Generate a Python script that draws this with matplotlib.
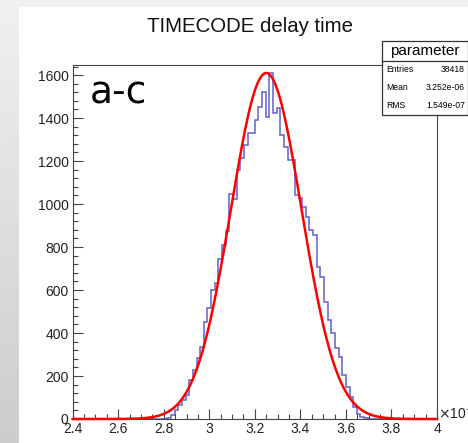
import matplotlib.pyplot as plt
import numpy as np
from matplotlib.patches import Rectangle
from matplotlib.lines import Line2D
from matplotlib.ticker import MultipleLocator

# Histogram: 100 bins from 2.4 to 4.0 (x 1e-6 s)
x_lo, x_hi, n_bins = 2.4, 4.0, 100
counts = [0] * 26 + [
    3, 19, 42, 65, 88, 112, 181, 228, 284, 335,
    451, 516, 600, 633, 744, 809, 874, 1047, 1023, 1158,
    1212, 1274, 1329, 1329, 1391, 1453, 1522, 1406, 1611, 1422,
    1445, 1321, 1264, 1205, 1205, 1042, 1030, 988, 941, 879,
    856, 708, 662, 546, 460, 400, 330, 290, 205, 150,
    104, 57, 23, 11, 5, 2,
] + [0] * 18

# Gaussian fit parameters
fit_amp, fit_mean, fit_sigma = 1610, 3.25, 0.155

stat_names = ['Entries', 'Mean', 'RMS']
stat_values = ['38418', '3.252e-06', '1.549e-07']

W, H = 468, 443
fig = plt.figure(figsize=(W / 100, H / 100), dpi=100)

# gray gradient backdrop with white panel
bg = fig.add_axes([0, 0, 1, 1], zorder=-10)
grad = np.linspace(0.94, 0.80, 256).reshape(-1, 1)
bg.imshow(grad, cmap='gray', vmin=0, vmax=1, aspect='auto', extent=[0, 1, 0, 1])
bg.add_patch(Rectangle((19 / W, 0), 1 - 19 / W, 1 - 7 / H, facecolor='white',
                       edgecolor='none'))
bg.set_xlim(0, 1)
bg.set_ylim(0, 1)
bg.axis('off')

L, R, T, B = 72.7, 437, 65, 419
ax = fig.add_axes([L / W, 1 - B / H, (R - L) / W, (B - T) / H])
ax.set_facecolor('white')

edges = np.linspace(x_lo, x_hi, n_bins + 1)
ax.stairs(counts, edges, color='#6060cc', linewidth=1.1, baseline=0)

xf = np.linspace(x_lo, x_hi, 800)
yf = fit_amp * np.exp(-0.5 * ((xf - fit_mean) / fit_sigma) ** 2)
ax.plot(xf, yf, color='#ff0000', linewidth=1.8, clip_on=False, zorder=3)

ax.set_xlim(x_lo, x_hi)
ax.set_ylim(0, 1647)
ax.xaxis.set_minor_locator(MultipleLocator(0.05))
ax.yaxis.set_major_locator(MultipleLocator(200))
ax.yaxis.set_minor_locator(MultipleLocator(40))
ax.set_xticks(np.arange(2.4, 4.01, 0.2))
ax.set_xticklabels(['2.4', '2.6', '2.8', '3', '3.2', '3.4', '3.6', '3.8', '4'])
ax.tick_params(axis='both', which='both', direction='in', colors='#444444',
               labelcolor='#222222', labelsize=10, width=0.8)
ax.tick_params(axis='both', which='major', length=7)
ax.tick_params(axis='both', which='minor', length=3.5)
ax.tick_params(axis='x', pad=2)
ax.tick_params(axis='y', pad=3)
ax.tick_params(top=False, right=False, which='both')
for lab in ax.get_xticklabels() + ax.get_yticklabels():
    lab.set_fontfamily('Liberation Sans')
for s in ax.spines.values():
    s.set_color('#444444')
    s.set_linewidth(0.8)

# axis exponent
fig.text(438 / W, 1 - 413 / H, r'$\times$10$^{-6}$', fontsize=10, color='#222222',
         family='Liberation Sans', ha='left', va='center')

# title
fig.text(250 / W, 1 - 27 / H, 'TIMECODE delay time', fontsize=14.7,
         family='Liberation Sans', color='#111111', ha='center', va='center')

# label inside plot
fig.text(118 / W, 1 - 93 / H, 'a-c', fontsize=27, family='DejaVu Sans',
         color='black', ha='center', va='center')

# stats box, drawn on top of the plot frame
bx0, bx1, by0, by_mid, by1 = 381.5, 467.5, 40.5, 61, 115
fig.add_artist(Rectangle((bx0 / W, 1 - by1 / H), (bx1 - bx0) / W, (by1 - by0) / H,
                         transform=fig.transFigure, facecolor='white',
                         edgecolor='#333333', linewidth=0.9, zorder=5))
fig.add_artist(Line2D([bx0 / W, bx1 / W], [1 - by_mid / H] * 2,
                      transform=fig.transFigure, color='#333333',
                      linewidth=0.9, zorder=6))
fig.text((bx0 + bx1) / 2 / W, 1 - 50.5 / H, 'parameter', fontsize=11,
         family='Liberation Sans', ha='center', va='center', zorder=7)
row_y = [69, 87.5, 106]
for nm, vl, ry in zip(stat_names, stat_values, row_y):
    yy = 1 - ry / H
    fig.text(386 / W, yy, nm, fontsize=6.2, family='Liberation Sans',
             ha='left', va='center', zorder=7)
    fig.text(465 / W, yy, vl, fontsize=6.2, family='Liberation Sans',
             ha='right', va='center', zorder=7)

fig.savefig('out.png', dpi=100)
